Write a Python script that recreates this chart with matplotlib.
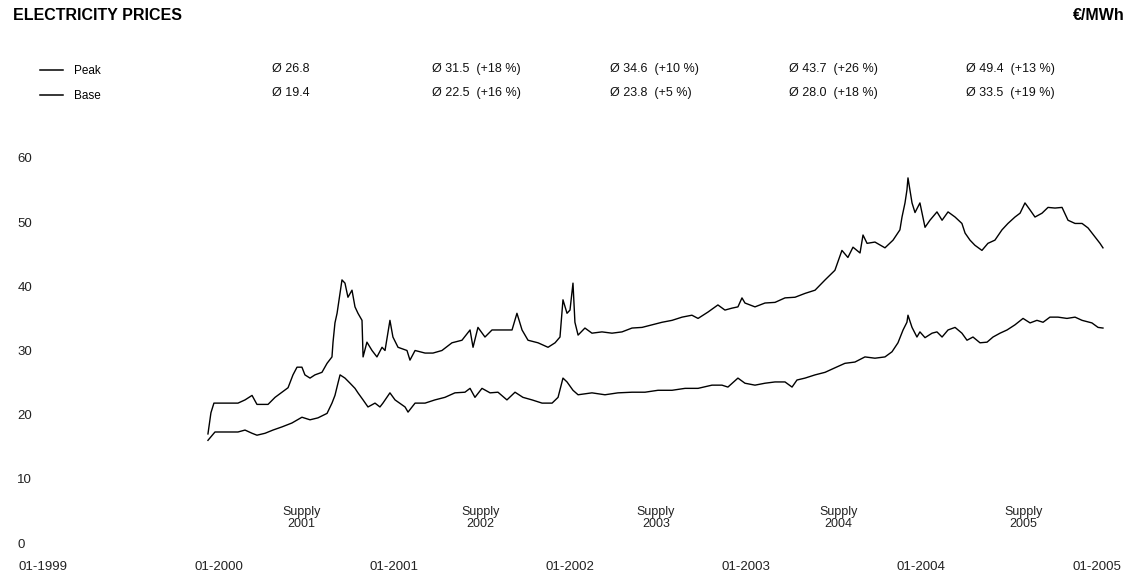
import matplotlib
matplotlib.use("Agg")
import matplotlib.pyplot as plt
from matplotlib.lines import Line2D

plt.rcParams['font.family'] = ['Liberation Sans Narrow', 'Liberation Sans', 'DejaVu Sans']

# ---- data (decimal trading year, EUR/MWh) ----
peak_t = [1999.939, 1999.956, 1999.973, 2000.042, 2000.110, 2000.150, 2000.190, 2000.218, 2000.281,
          2000.321, 2000.361, 2000.395, 2000.423, 2000.446, 2000.474, 2000.491, 2000.520, 2000.548,
          2000.588, 2000.617, 2000.645, 2000.651, 2000.662, 2000.674, 2000.691, 2000.702, 2000.719,
          2000.736, 2000.759, 2000.776, 2000.793, 2000.816, 2000.822, 2000.844, 2000.873, 2000.901,
          2000.930, 2000.947, 2000.975, 2000.992, 2001.021, 2001.072, 2001.089, 2001.118, 2001.175,
          2001.220, 2001.271, 2001.328, 2001.385, 2001.431, 2001.448, 2001.476, 2001.516, 2001.556,
          2001.613, 2001.670, 2001.698, 2001.727, 2001.761, 2001.818, 2001.875, 2001.915, 2001.943,
          2001.960, 2001.983, 2002.000, 2002.017, 2002.028, 2002.046, 2002.085, 2002.125, 2002.182,
          2002.239, 2002.296, 2002.353, 2002.410, 2002.467, 2002.524, 2002.581, 2002.638, 2002.694,
          2002.729, 2002.786, 2002.842, 2002.882, 2002.922, 2002.956, 2002.979, 2002.996, 2003.053,
          2003.110, 2003.167, 2003.224, 2003.281, 2003.338, 2003.395, 2003.452, 2003.508, 2003.548,
          2003.582, 2003.611, 2003.651, 2003.668, 2003.691, 2003.736, 2003.793, 2003.839, 2003.878,
          2003.890, 2003.907, 2003.918, 2003.924, 2003.947, 2003.964, 2003.992, 2004.021, 2004.049,
          2004.089, 2004.118, 2004.152, 2004.192, 2004.231, 2004.249, 2004.277, 2004.305, 2004.345,
          2004.379, 2004.419, 2004.459, 2004.493, 2004.533, 2004.562, 2004.590, 2004.619, 2004.647,
          2004.687, 2004.721, 2004.761, 2004.801, 2004.835, 2004.875, 2004.915, 2004.949, 2004.989,
          2005.017, 2005.034]
peak_v = [17.0, 20.3, 21.8, 21.8, 21.8, 22.3, 23.0, 21.6, 21.6,
          22.7, 23.5, 24.2, 26.2, 27.4, 27.4, 26.2, 25.7, 26.2,
          26.6, 28.0, 29.0, 31.3, 34.3, 35.8, 38.9, 41.0, 40.5,
          38.3, 39.4, 36.8, 35.8, 34.7, 29.0, 31.3, 30.0, 29.0,
          30.5, 30.0, 34.7, 32.1, 30.5, 30.0, 28.5, 30.0, 29.6,
          29.6, 30.0, 31.2, 31.6, 33.2, 30.5, 33.6, 32.1, 33.2,
          33.2, 33.2, 35.8, 33.2, 31.6, 31.2, 30.5, 31.2, 32.1,
          37.9, 35.8, 36.3, 40.5, 34.4, 32.4, 33.5, 32.7, 32.9,
          32.7, 32.9, 33.5, 33.6, 34.0, 34.4, 34.7, 35.2, 35.5,
          35.0, 36.0, 37.1, 36.3, 36.6, 36.8, 38.2, 37.4, 36.8,
          37.4, 37.5, 38.2, 38.3, 38.9, 39.4, 41.0, 42.5, 45.6,
          44.5, 46.1, 45.2, 48.0, 46.7, 46.9, 46.0, 47.2, 48.8,
          50.8, 53.0, 55.0, 56.9, 53.0, 51.5, 53.0, 49.2, 50.3,
          51.6, 50.3, 51.6, 50.8, 49.8, 48.3, 47.2, 46.4, 45.6,
          46.7, 47.2, 48.8, 49.8, 50.8, 51.4, 53.0, 51.9, 50.8,
          51.4, 52.3, 52.2, 52.3, 50.3, 49.8, 49.8, 49.1, 47.7,
          46.7, 46.0]

base_t = [1999.939, 1999.979, 2000.110, 2000.150, 2000.190, 2000.218, 2000.264, 2000.309, 2000.361,
          2000.417, 2000.474, 2000.520, 2000.565, 2000.617, 2000.645, 2000.662, 2000.679, 2000.691,
          2000.719, 2000.748, 2000.776, 2000.793, 2000.822, 2000.850, 2000.890, 2000.918, 2000.935,
          2000.975, 2001.004, 2001.061, 2001.078, 2001.118, 2001.175, 2001.231, 2001.288, 2001.345,
          2001.402, 2001.431, 2001.459, 2001.499, 2001.545, 2001.590, 2001.641, 2001.687, 2001.732,
          2001.784, 2001.841, 2001.898, 2001.932, 2001.960, 2001.983, 2002.017, 2002.046, 2002.125,
          2002.199, 2002.273, 2002.353, 2002.427, 2002.501, 2002.581, 2002.655, 2002.729, 2002.808,
          2002.865, 2002.899, 2002.956, 2002.996, 2003.053, 2003.110, 2003.167, 2003.224, 2003.264,
          2003.292, 2003.338, 2003.395, 2003.452, 2003.508, 2003.565, 2003.622, 2003.679, 2003.736,
          2003.793, 2003.833, 2003.867, 2003.896, 2003.918, 2003.924, 2003.947, 2003.975, 2003.992,
          2004.021, 2004.061, 2004.089, 2004.118, 2004.152, 2004.192, 2004.231, 2004.260, 2004.294,
          2004.334, 2004.374, 2004.408, 2004.448, 2004.488, 2004.533, 2004.579, 2004.619, 2004.658,
          2004.693, 2004.732, 2004.778, 2004.829, 2004.875, 2004.915, 2004.971, 2005.006, 2005.034]
base_v = [16.0, 17.3, 17.3, 17.6, 17.1, 16.8, 17.1, 17.6, 18.1,
          18.7, 19.6, 19.2, 19.5, 20.2, 21.8, 23.0, 24.9, 26.2,
          25.7, 24.9, 24.1, 23.4, 22.3, 21.2, 21.8, 21.2, 21.8,
          23.4, 22.3, 21.2, 20.4, 21.8, 21.8, 22.3, 22.7, 23.4,
          23.5, 24.1, 22.7, 24.1, 23.4, 23.5, 22.3, 23.5, 22.7,
          22.3, 21.8, 21.8, 22.7, 25.7, 25.1, 23.8, 23.1, 23.4,
          23.1, 23.4, 23.5, 23.5, 23.8, 23.8, 24.1, 24.1, 24.6,
          24.6, 24.3, 25.7, 24.9, 24.6, 24.9, 25.1, 25.1, 24.3,
          25.4, 25.7, 26.2, 26.6, 27.3, 28.0, 28.2, 29.0, 28.8,
          29.0, 29.8, 31.2, 33.2, 34.4, 35.5, 33.6, 32.1, 32.9,
          32.0, 32.7, 32.9, 32.1, 33.2, 33.6, 32.7, 31.6, 32.1,
          31.2, 31.3, 32.1, 32.7, 33.2, 34.0, 35.0, 34.3, 34.7,
          34.4, 35.2, 35.2, 35.0, 35.2, 34.7, 34.3, 33.6, 33.5]

series_names = ['Peak', 'Base']
peak_avgs = ['Ø 26.8', 'Ø 31.5  (+18 %)', 'Ø 34.6  (+10 %)', 'Ø 43.7  (+26 %)', 'Ø 49.4  (+13 %)']
base_avgs = ['Ø 19.4', 'Ø 22.5  (+16 %)', 'Ø 23.8  (+5 %)', 'Ø 28.0  (+18 %)', 'Ø 33.5  (+19 %)']
supply_years = ['2001', '2002', '2003', '2004', '2005']
supply_pos = [2000.47, 2001.49, 2002.49, 2003.53, 2004.58]
x_ticks = [1999, 2000, 2001, 2002, 2003, 2004, 2005]
x_labels = ['01-1999', '01-2000', '01-2001', '01-2002', '01-2003', '01-2004', '01-2005']
y_ticks = [0, 10, 20, 30, 40, 50, 60]

# ---- figure ----
W, H = 1131, 576
fig = plt.figure(figsize=(W / 100, H / 100), dpi=100)
ax = fig.add_axes([43 / W, (H - 543) / H, (1097 - 43) / W, (543 - 158) / H])
ax.set_xlim(1999, 2005)
ax.set_ylim(0, 60)
for s in ax.spines.values():
    s.set_visible(False)

ax.plot(peak_t, peak_v, color='black', lw=1.0, clip_on=False)
ax.plot(base_t, base_v, color='black', lw=1.0, clip_on=False)

ax.set_xticks(x_ticks)
ax.set_xticklabels(x_labels, fontsize=9.5, color='#222222')
ax.set_yticks(y_ticks)
ax.set_yticklabels([str(v) for v in y_ticks], fontsize=9.5, color='#222222', ha='left')
ax.tick_params(axis='both', length=0)
ax.tick_params(axis='x', pad=13)
ax.tick_params(axis='y', pad=18.5)

for pos, yr in zip(supply_pos, supply_years):
    ax.text(pos, 3.9, 'Supply\n' + yr, ha='center', va='center', fontsize=9,
            linespacing=1.1, color='#222222')

# title and unit
fig.text(13 / W, 1 - 15 / H, 'ELECTRICITY PRICES', fontsize=11.5, fontweight='bold',
         ha='left', va='center')
fig.text(1125 / W, 1 - 15 / H, '€/MWh', fontsize=11.5, fontweight='bold',
         ha='right', va='center')

# legend
handles = [Line2D([0], [0], color='black', lw=1.1) for _ in series_names]
fig.legend(handles, series_names, loc='upper left', bbox_to_anchor=(35 / W, 1 - 60 / H),
           frameon=False, fontsize=8.5, handlelength=2.0, handletextpad=0.9,
           labelspacing=1.15, borderaxespad=0)

# averages
col_x = [272, 432, 610, 789, 966]
for cx, pa, ba in zip(col_x, peak_avgs, base_avgs):
    fig.text(cx / W, 1 - 69 / H, pa, fontsize=9, ha='left', va='center', color='#111111')
    fig.text(cx / W, 1 - 93 / H, ba, fontsize=9, ha='left', va='center', color='#111111')

fig.savefig('out.png', dpi=100, facecolor='white')
